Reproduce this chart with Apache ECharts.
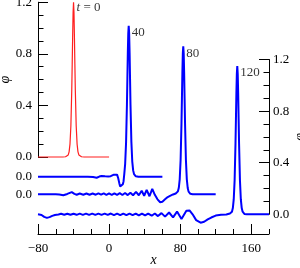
<!DOCTYPE html>
<html>
<head>
<meta charset="utf-8">
<script src="https://cdn.jsdelivr.net/npm/echarts@6/dist/echarts.min.js"></script>
<style>
html,body{margin:0;padding:0;background:#fff;}
#chart{width:300px;height:268px;}
</style>
</head>
<body>
<div id="chart"></div>
<script>
// ---- data ----
const xTicks = [-80, 0, 80, 160];
const phiTicks = [0, 0.4, 0.8, 1.2];
const peakLabels = ['{i|t} = 0', '40', '80', '120'];

const phiT0 = [[-80,0],[-52,0],[-49,0.002],[-47,0.008],[-46,0.016],[-45,0.04],[-44,0.1],[-43,0.24],[-42,0.52],[-41.5,0.72],[-41,0.93],[-40.5,1.12],[-40,1.2],[-39.5,1.12],[-39,0.93],[-38.5,0.72],[-38,0.52],[-37,0.24],[-36,0.1],[-35,0.04],[-34,0.016],[-33,0.008],[-31,0.002],[-28,0],[0,0]];

const phiT40 = [[-80,0],[-24,0],[-18,-0.002],[-14,-0.008],[-11,0.001],[-8.5,0.006],[-6.5,0.013],[-4.5,0.003],[-2.7,-0.01],[-1,0.002],[0.3,0.015],[1.8,0.004],[3.3,-0.005],[5.5,0.016],[7.5,0.03],[9,0.016],[10.3,-0.012],[11.5,-0.05],[12.5,-0.075],[13.5,-0.085],[14.5,-0.078],[15.5,-0.058],[16.3,-0.035],[17.1,0.02],[18.1,0.1],[19.1,0.26],[20.1,0.56],[20.6,0.76],[21.1,0.96],[21.6,1.11],[22.1,1.17],[22.6,1.11],[23.1,0.96],[23.6,0.76],[24.1,0.56],[25.1,0.27],[26.1,0.117],[27.1,0.049],[28.1,0.02],[30.1,0.003],[33,0],[60,0]];

const phiT80 = [[-80,0],[-60,0],[-56,-0.003],[-51.5,-0.008],[-47,0.002],[-42,0.016],[-39,0.003],[-36.4,-0.004],[-33,0.005],[-29,-0.004],[-25.5,0.005],[-22,-0.004],[-18.5,0.005],[-15,-0.004],[-12,0.006],[-9,-0.004],[-6,0.006],[-3,-0.005],[0,0.006],[3,-0.005],[6,0.007],[9,-0.005],[12,0.008],[15,-0.006],[18,0.009],[21,-0.007],[24,0.011],[27,-0.008],[30.3,0.018],[33.5,-0.008],[36.7,0.027],[39.5,-0.012],[42.3,0.034],[45.5,-0.016],[48.6,0.042],[51.5,-0.005],[54.5,-0.04],[57.5,-0.062],[60,-0.058],[63,-0.04],[66,-0.022],[68.6,-0.013],[72,-0.002],[75,0.005],[76.5,0.012],[77.5,0.022],[78.5,0.05],[79.5,0.115],[80.5,0.263],[81.5,0.55],[82,0.742],[82.5,0.94],[83,1.09],[83.5,1.147],[84,1.09],[84.5,0.94],[85,0.742],[85.5,0.55],[86.5,0.263],[87.5,0.115],[88.5,0.048],[89.5,0.02],[91.5,0.003],[94,0],[120,0]];

const phiT120 = [[-80,0],[-76,-0.005],[-73,-0.02],[-70,-0.028],[-67,-0.022],[-64,-0.012],[-61,-0.006],[-57,-0.002],[-54,0.004],[-50.5,-0.004],[-47,0.004],[-43.5,-0.004],[-40,0.004],[-36.5,-0.004],[-33,0.005],[-29.5,-0.004],[-26,0.005],[-22.5,-0.005],[-19,0.005],[-15.5,-0.005],[-12,0.005],[-8.5,-0.005],[-5,0.005],[-1.5,-0.005],[2,0.006],[5.5,-0.006],[9,0.006],[12.5,-0.006],[16,0.006],[19.5,-0.007],[23,0.006],[26.5,-0.007],[30,0.006],[33.5,-0.008],[37,0.006],[40.5,-0.009],[44,0.006],[48,-0.011],[51.5,0.006],[55,-0.014],[59,0.009],[63,-0.018],[67.5,0.014],[72,-0.024],[76.5,0.021],[81.5,-0.036],[87,0.028],[90.5,0.03],[94,0.0],[98,-0.045],[103,-0.065],[107,-0.058],[111,-0.04],[115,-0.025],[120,-0.01],[126,-0.004],[132,-0.002],[136,0.006],[138.3,0.02],[139.3,0.048],[140.3,0.115],[141.3,0.263],[142.3,0.55],[142.8,0.742],[143.3,0.94],[143.8,1.09],[144.3,1.15],[144.8,1.09],[145.3,0.94],[145.8,0.742],[146.3,0.55],[147.3,0.263],[148.3,0.115],[149.3,0.048],[150.3,0.02],[152.3,0.003],[155,0],[180,0]];

const curves = [phiT0, phiT40, phiT80, phiT120];
const colors = ['#ff1f1f', '#0000ff', '#0000ff', '#0000ff'];
const widths = [1.2, 2, 2, 2];

// ---- layout ----
const FONT = 'Liberation Serif';
const baselines = [157, 176.7, 194.2, 214.3];
const panelH = 154.8;
const xAxisY = 234;

const fmt1 = v => (Math.round(v * 10) / 10).toFixed(1);
const fmtX = v => v < 0 ? '\u2212' + Math.abs(v) : String(v);
const txt = {fontFamily: FONT, fontSize: 13, color: '#000'};
const black = {color: '#000', width: 1};

const grids = baselines.map(b => ({left: 38, right: 31, top: b - panelH, height: panelH, outerBoundsMode: 'none', containLabel: false}));

const xAxes = [0, 1, 2].map(i => ({gridIndex: i, type: 'value', min: -80, max: 180, show: false, axisLine: {onZero: false}}));
xAxes.push({
  gridIndex: 3, type: 'value', min: -80, max: 180, position: 'bottom',
  offset: xAxisY - baselines[3],
  axisLine: {show: true, onZero: false, lineStyle: black},
  axisTick: {show: true, inside: true, length: 10, customValues: xTicks, lineStyle: black},
  axisLabel: Object.assign({show: true, customValues: xTicks, formatter: fmtX, margin: 8}, txt),
  splitLine: {show: false},
  name: 'x', nameLocation: 'middle', nameGap: 19, nameMoveOverlap: false,
  nameTextStyle: Object.assign({fontStyle: 'italic'}, txt, {fontSize: 14})
});
xAxes.push({
  gridIndex: 3, type: 'value', min: -80, max: 180, interval: 20, position: 'bottom',
  offset: xAxisY - baselines[3],
  axisLine: {show: false, onZero: false},
  axisTick: {show: true, inside: true, length: 5, lineStyle: black},
  axisLabel: {show: false},
  splitLine: {show: false}
});

function fullY(i, pos, margin, gap) {
  return {
    gridIndex: i, type: 'value', min: phiTicks[0], max: phiTicks[phiTicks.length - 1], interval: 0.4,
    position: pos,
    axisLine: {show: true, onZero: false, lineStyle: black},
    axisTick: {show: true, inside: true, length: 10, lineStyle: black},
    minorTick: {show: true, splitNumber: 4, length: 5.5, lineStyle: black},
    axisLabel: Object.assign({formatter: fmt1, margin: margin}, txt),
    splitLine: {show: false}, minorSplitLine: {show: false},
    name: '\u03C6', nameLocation: 'middle', nameRotate: 90, nameGap: gap, nameMoveOverlap: false,
    nameTextStyle: Object.assign({fontStyle: 'italic'}, txt, {fontSize: 14})
  };
}
function zeroY(i) {
  return {
    gridIndex: i, type: 'value', min: 0, max: 1.2, interval: 1.2, position: 'left',
    axisLine: {show: false, onZero: false}, axisTick: {show: false},
    axisLabel: Object.assign({formatter: v => (v === 0 ? fmt1(v) : ''), margin: 6}, txt),
    splitLine: {show: false}
  };
}
const yAxes = [fullY(0, 'left', 6, 26), zeroY(1), zeroY(2), fullY(3, 'right', 4, 24)];

const series = [];
curves.forEach((c, i) => {
  series.push({
    type: 'line', xAxisIndex: i, yAxisIndex: i, data: c,
    showSymbol: false, clip: false, smooth: false,
    lineStyle: {color: colors[i], width: widths[i]},
    emphasis: {disabled: true}, silent: true, z: 2
  });
  let pk = c[0];
  c.forEach(p => { if (p[1] > pk[1]) pk = p; });
  series.push({
    type: 'scatter', xAxisIndex: i, yAxisIndex: i, data: [pk],
    symbolSize: 0, clip: false, silent: true, itemStyle: {color: 'transparent'},
    label: Object.assign({
      show: true, position: 'right', distance: 3, offset: [0, i === 0 ? 5 : 7],
      formatter: () => peakLabels[i],
      rich: {i: Object.assign({fontStyle: 'italic'}, txt)}
    }, txt),
    z: 3
  });
});

const chart = echarts.init(document.getElementById('chart'), null, {renderer: 'canvas'});
chart.setOption({
  animation: false,
  backgroundColor: '#fff',
  grid: grids,
  xAxis: xAxes,
  yAxis: yAxes,
  series: series
});
</script>
</body>
</html>
